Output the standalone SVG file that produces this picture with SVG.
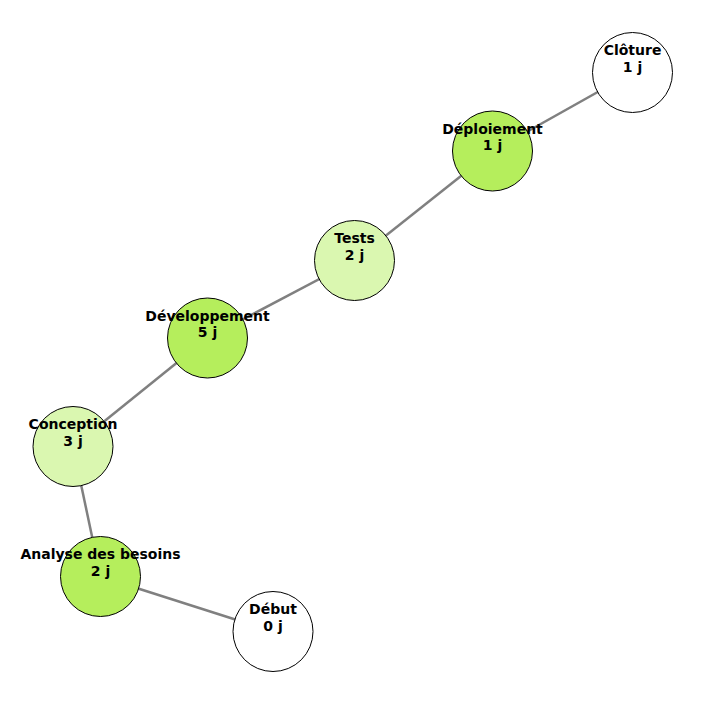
<svg xmlns="http://www.w3.org/2000/svg" width="705" height="705" viewBox="0 0 705 705">
<style>
.edge{stroke:#808080;stroke-width:2.5;fill:none}
.node circle{stroke:#000;stroke-width:1}
.g1{fill:#b5ee5c}
.g2{fill:#daf7b0}
.w{fill:#ffffff}
text{font-family:"DejaVu Sans",sans-serif;font-weight:bold;font-size:14px;text-anchor:middle;fill:#000}
</style>
<rect width="705" height="705" fill="#fff"/>
<g id="connectors">
<line class="edge" x1="273" y1="631.5" x2="100.5" y2="576.5"/>
<line class="edge" x1="100.5" y1="576.5" x2="73" y2="446.5"/>
<line class="edge" x1="73" y1="446.5" x2="207.5" y2="338"/>
<line class="edge" x1="207.5" y1="338" x2="354.5" y2="260.5"/>
<line class="edge" x1="354.5" y1="260.5" x2="492.5" y2="151"/>
<line class="edge" x1="492.5" y1="151" x2="632.5" y2="72.5"/>
</g>
<g id="cloture" class="node"><circle class="w" cx="632.5" cy="72.5" r="40"/><text x="632.5" y="55">Clôture</text><text x="632.5" y="71.5">1 j</text></g>
<g id="deploiement" class="node"><circle class="g1" cx="492.5" cy="151" r="40"/><text x="492.5" y="133.5">Déploiement</text><text x="492.5" y="150">1 j</text></g>
<g id="tests" class="node"><circle class="g2" cx="354.5" cy="260.5" r="40"/><text x="354.5" y="243">Tests</text><text x="354.5" y="259.5">2 j</text></g>
<g id="developpement" class="node"><circle class="g1" cx="207.5" cy="338" r="40"/><text x="207.5" y="320.5">Développement</text><text x="207.5" y="337">5 j</text></g>
<g id="conception" class="node"><circle class="g2" cx="73" cy="446.5" r="40"/><text x="73" y="429">Conception</text><text x="73" y="445.5">3 j</text></g>
<g id="analyse" class="node"><circle class="g1" cx="100.5" cy="576.5" r="40"/><text x="100.5" y="559">Analyse des besoins</text><text x="100.5" y="575.5">2 j</text></g>
<g id="debut" class="node"><circle class="w" cx="273" cy="631.5" r="40"/><text x="273" y="614">Début</text><text x="273" y="630.5">0 j</text></g>
</svg>
